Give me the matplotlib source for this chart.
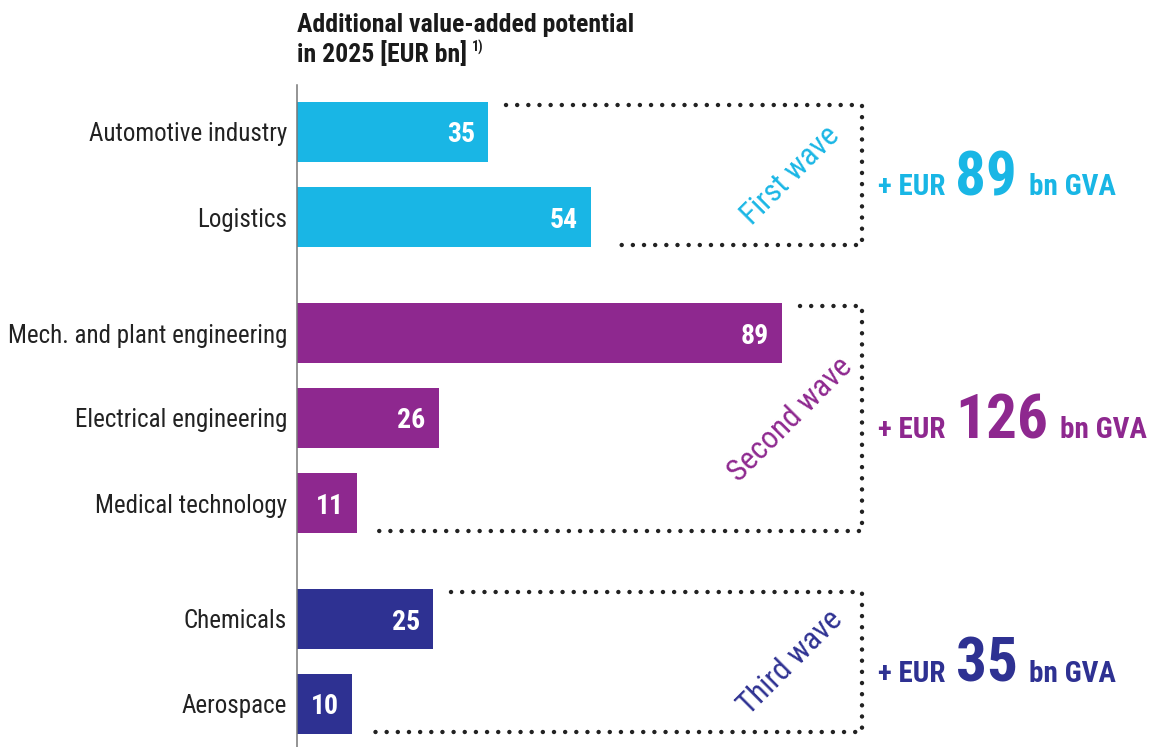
import matplotlib
matplotlib.use("Agg")
import matplotlib.pyplot as plt

categories = ["Automotive industry", "Logistics", "Mech. and plant engineering",
              "Electrical engineering", "Medical technology", "Chemicals", "Aerospace"]
values = [35, 54, 89, 26, 11, 25, 10]
groups = [0, 0, 1, 1, 1, 2, 2]
wave_labels = ["First wave", "Second wave", "Third wave"]
wave_totals = [89, 126, 35]
colors = ["#19b6e5", "#8e288f", "#2e3192"]
title_lines = ["Additional value-added potential", "in 2025 [EUR bn]"]
footnote_mark = "1)"

plt.rcParams['font.family'] = ["Roboto Condensed", "IBM Plex Sans Condensed", "DejaVu Sans"]

W, H = 1149, 747
fig = plt.figure(figsize=(W / 100, H / 100), dpi=100)
ax = fig.add_axes([0, 0, 1, 1])
s = 5.45            # pixels per EUR bn
x0 = 297            # pixel of zero
ax.set_xlim(-x0 / s, (W - x0) / s)
ax.set_ylim(H, 0)
ax.axis("off")

def px(x):
    return (x - x0) / s

# layout: bar centers in pixel units
pitch, gap, first = 85, 31, 132
ycent = []
y = first
for i, g in enumerate(groups):
    if i > 0:
        y += pitch + (gap if g != groups[i - 1] else 0)
    ycent.append(y)
bh = 60

ax.barh(ycent, values, height=bh, color=[colors[g] for g in groups], zorder=2)
ax.plot([0, 0], [85, H], color="#777777", lw=1.1, zorder=3)

for yc, v, c in zip(ycent, values, categories):
    ax.text(v - 13 / s, yc, str(v), ha="right", va="center_baseline", color="white",
            fontsize=20, fontweight="bold", zorder=4)
    ax.text(-10 / s, yc, c, ha="right", va="center_baseline", color="#222222",
            fontsize=18)

fig.canvas.draw()
r = fig.canvas.get_renderer()

ax.text(0, 32, title_lines[0], ha="left", va="baseline", fontsize=18.5,
        fontweight="bold", color="#1a1a1a")
t2 = ax.text(0, 62, title_lines[1], ha="left", va="baseline", fontsize=18.5,
             fontweight="bold", color="#1a1a1a")
bb = t2.get_window_extent(renderer=r)
ax.text(px(bb.x1 + 5), 52, footnote_mark, ha="left", va="baseline", fontsize=10,
        fontweight="bold", color="#1a1a1a")

xr = px(862)
dot_kw = dict(color="#222222", lw=3.2, dash_capstyle="round",
              linestyle=(0, (0.01, 2.5)), zorder=1)
for g in range(3):
    idx = [i for i in range(len(groups)) if groups[i] == g]
    top = ycent[idx[0]] - bh / 2 + 3
    bot = ycent[idx[-1]] + bh / 2 - 2
    xs_top = values[idx[0]] + 18 / s
    xs_bot = values[idx[-1]] + 22 / s
    ax.plot([xs_top, xr, xr, xs_bot], [top, top, bot, bot], **dot_kw)
    mid = (top + bot) / 2
    ax.text(xr - 72 / s, mid + 1, wave_labels[g], rotation=45, ha="center", va="center",
            fontsize=22.5, color=colors[g], rotation_mode="anchor")
    base = mid + 20
    xpix = 878
    for txt, fs, gp in [("+ EUR", 21, 10), (str(wave_totals[g]), 44, 12), ("bn GVA", 21, 0)]:
        t = ax.text(px(xpix), base, txt, ha="left", va="baseline", fontsize=fs,
                    fontweight="bold", color=colors[g])
        bbx = t.get_window_extent(renderer=r)
        xpix = bbx.x1 + gp

fig.savefig("out.png", dpi=100)
